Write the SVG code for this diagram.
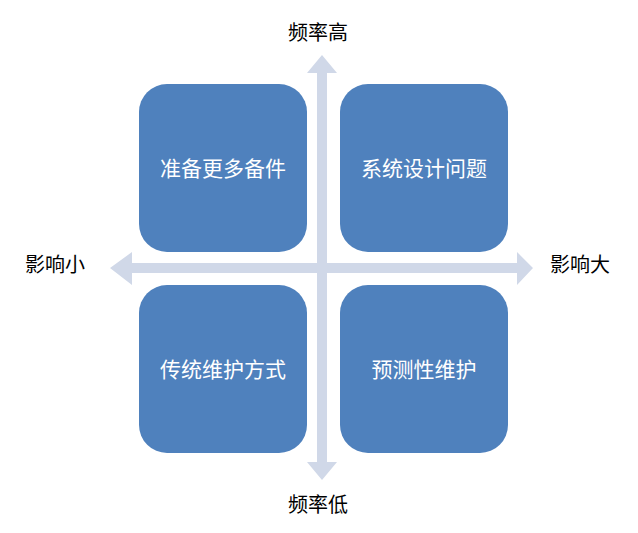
<svg xmlns="http://www.w3.org/2000/svg" width="638" height="533" viewBox="0 0 638 533">
<style>
.box{fill:#4F81BD}
.bt{fill:#FFFFFF;font-family:"Noto Sans CJK SC",sans-serif;font-size:21px;text-anchor:middle}
.lb{fill:#000000;font-family:"Noto Sans CJK SC",sans-serif;font-size:20px;text-anchor:middle}
.ax{fill:#D0D8E8}
</style>
<rect width="638" height="533" fill="#FFFFFF"/>
<g id="connectors">
<polygon class="ax" points="322,55 337,73 327,73 327,462 337,462 322,480 307,462 317,462 317,73 307,73"/>
<polygon class="ax" points="110,268 132,252 132,263 517,263 517,252 533,268 517,285 517,273 132,273 132,285"/>
</g>
<g id="node1"><rect class="box" x="139" y="84" width="168" height="168" rx="28"/><text class="bt" x="223" y="175.5">准备更多备件</text></g>
<g id="node2"><rect class="box" x="340" y="84" width="168" height="168" rx="28"/><text class="bt" x="424" y="175.5">系统设计问题</text></g>
<g id="node3"><rect class="box" x="139" y="285" width="168" height="168" rx="28"/><text class="bt" x="223" y="376.5">传统维护方式</text></g>
<g id="node4"><rect class="box" x="340" y="285" width="168" height="168" rx="28"/><text class="bt" x="424" y="376.5">预测性维护</text></g>
<g id="label-top"><text class="lb" x="318" y="40">频率高</text></g>
<g id="label-bottom"><text class="lb" x="318" y="512">频率低</text></g>
<g id="label-left"><text class="lb" x="55" y="272">影响小</text></g>
<g id="label-right"><text class="lb" x="580" y="272">影响大</text></g>
</svg>
